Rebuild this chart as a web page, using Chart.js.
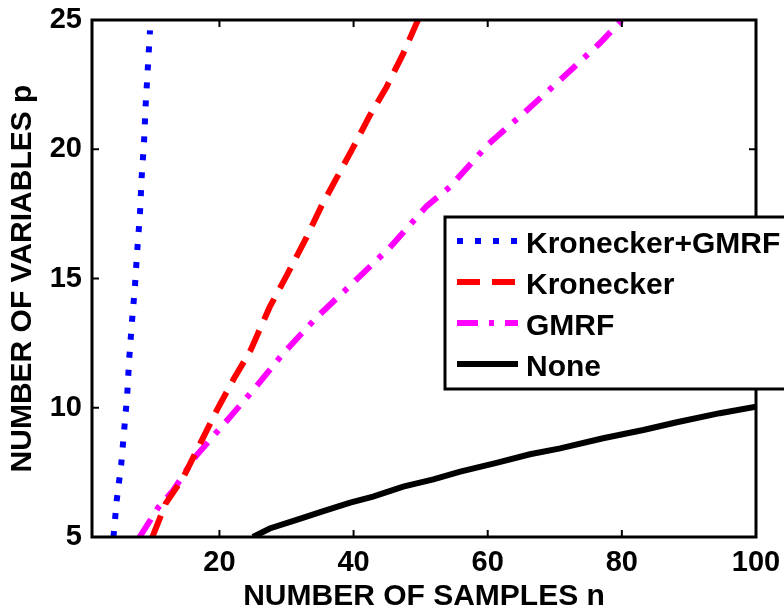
<!DOCTYPE html>
<html lang="en">
<head>
    <meta charset="UTF-8">
    <title>Samples vs variables</title>
    <script src="https://cdn.jsdelivr.net/npm/chart.js"></script>
    <style>
        body {
            margin: 0;
            background: #fff;
        }
        #chartContainer {
            width: 784px;
            height: 608px;
        }
    </style>
</head>
<body>
    <div id="chartContainer">
        <canvas id="pnChart" width="784" height="608"></canvas>
    </div>

    <script>
        const xTicks = [20, 40, 60, 80, 100];
        const yTicks = [5, 10, 15, 20, 25];
        const seriesNames = ['Kronecker+GMRF', 'Kronecker', 'GMRF', 'None'];

        // n (samples) and p (variables)
        const kgN = [4.2, 4.7, 5.35, 5.8, 6.25, 6.55, 6.95, 7.4, 7.75, 8.15, 8.4, 8.75, 9.0, 9.3, 9.65];
        const kgP = [5, 6.45, 7.8, 9.15, 10.5, 11.9, 13.3, 14.7, 16.1, 17.5, 18.9, 20.25, 21.7, 23.05, 24.6];

        const kronN = [10, 12, 14.6, 17.1, 19.6, 22.1, 24.6, 27.5, 30, 33, 35.2, 37.5, 40, 42.4, 44.9, 47.4, 49.6];
        const kronP = [5, 6.3, 7.3, 8.6, 9.9, 11.1, 12.2, 13.9, 15.1, 16.6, 17.8, 18.9, 20.1, 21.3, 22.4, 23.7, 25];

        const gmrfN = [8.1, 10.9, 13.1, 16.4, 21.1, 25.1, 29.5, 34.5, 40, 45.4, 50.9, 54.4, 60.1, 65.6, 71.3, 76.7, 80];
        const gmrfP = [5, 6.15, 6.8, 8.1, 9.5, 10.7, 12.1, 13.5, 14.85, 16.2, 17.8, 18.55, 20.2, 21.45, 22.8, 24.1, 25];

        const noneN = [25, 27.5, 31.5, 35.5, 39.5, 42.9, 47.4, 51.9, 55.9, 61.3, 66.3, 70.8, 77.2, 83.2, 88.2, 94.6, 100];
        const noneP = [5, 5.33, 5.66, 6.0, 6.33, 6.56, 6.95, 7.23, 7.53, 7.87, 8.2, 8.43, 8.82, 9.14, 9.44, 9.79, 10.04];

        const FONT = '"Liberation Sans", Arial, sans-serif';

        function toPoints(xs, ys) {
            return xs.map((x, i) => ({ x: x, y: ys[i] }));
        }

        // box around the axes with inward ticks, matlab style
        const framePlugin = {
            id: 'frame',
            afterDatasetsDraw(chart) {
                const { ctx, chartArea: a, scales } = chart;
                ctx.save();
                ctx.strokeStyle = '#000';
                ctx.lineWidth = 3;
                ctx.strokeRect(a.left, a.top, a.right - a.left, a.bottom - a.top);
                ctx.lineWidth = 2;
                const len = 7;
                ctx.beginPath();
                xTicks.forEach(v => {
                    const x = scales.x.getPixelForValue(v);
                    ctx.moveTo(x, a.bottom); ctx.lineTo(x, a.bottom - len);
                    ctx.moveTo(x, a.top); ctx.lineTo(x, a.top + len);
                });
                yTicks.forEach(v => {
                    const y = scales.y.getPixelForValue(v);
                    ctx.moveTo(a.left, y); ctx.lineTo(a.left + len, y);
                    ctx.moveTo(a.right, y); ctx.lineTo(a.right - len, y);
                });
                ctx.stroke();
                ctx.restore();
            }
        };

        // legend box sitting over the right part of the plot
        const boxLegend = {
            id: 'boxLegend',
            afterDraw(chart) {
                const ctx = chart.ctx;
                const left = 445, top = 217, right = 792, bottom = 389;
                ctx.save();
                ctx.fillStyle = '#fff';
                ctx.fillRect(left, top, right - left, bottom - top);
                ctx.strokeStyle = '#000';
                ctx.lineWidth = 3;
                ctx.strokeRect(left, top, right - left, bottom - top);

                chart.data.datasets.forEach((ds, i) => {
                    const y = top + 24 + i * 41;
                    ctx.save();
                    ctx.strokeStyle = ds.borderColor;
                    ctx.lineWidth = ds.borderWidth;
                    ctx.lineCap = 'butt';
                    ctx.setLineDash(ds.borderDash || []);
                    ctx.beginPath();
                    ctx.moveTo(457, y);
                    ctx.lineTo(518, y);
                    ctx.stroke();
                    ctx.restore();

                    ctx.fillStyle = '#000';
                    ctx.font = 'bold 30px ' + FONT;
                    ctx.textBaseline = 'alphabetic';
                    ctx.textAlign = 'left';
                    ctx.fillText(ds.label, 526, y + 12);
                });
                ctx.restore();
            }
        };

        const ctx = document.getElementById('pnChart').getContext('2d');
        const pnChart = new Chart(ctx, {
            type: 'scatter',
            data: {
                datasets: [{
                    label: seriesNames[0],
                    data: toPoints(kgN, kgP),
                    borderColor: '#0000ff',
                    borderWidth: 6,
                    borderDash: [6, 12]
                }, {
                    label: seriesNames[1],
                    data: toPoints(kronN, kronP),
                    borderColor: '#ff0000',
                    borderWidth: 6,
                    borderDash: [23, 12]
                }, {
                    label: seriesNames[2],
                    data: toPoints(gmrfN, gmrfP),
                    borderColor: '#ff00ff',
                    borderWidth: 6,
                    borderDash: [21, 11, 5, 11]
                }, {
                    label: seriesNames[3],
                    data: toPoints(noneN, noneP),
                    borderColor: '#000000',
                    borderWidth: 6,
                    borderDash: []
                }]
            },
            options: {
                responsive: false,
                animation: false,
                devicePixelRatio: 1,
                showLine: true,
                elements: {
                    point: { radius: 0, hoverRadius: 0 },
                    line: { tension: 0, borderCapStyle: 'butt', borderJoinStyle: 'miter' }
                },
                layout: {
                    padding: { left: 0, right: 28, top: 20, bottom: 0 }
                },
                plugins: {
                    legend: { display: false },
                    tooltip: { enabled: false }
                },
                scales: {
                    x: {
                        type: 'linear',
                        min: 1,
                        max: 100,
                        grid: { display: false, drawTicks: false },
                        border: { display: false },
                        afterBuildTicks: scale => {
                            scale.ticks = xTicks.map(v => ({ value: v }));
                        },
                        afterFit: scale => {
                            scale.height = 71;
                            scale.paddingLeft = 0;
                            scale.paddingRight = 0;
                        },
                        ticks: {
                            color: '#000',
                            padding: 9,
                            maxRotation: 0,
                            font: { family: FONT, size: 29, weight: 'bold' }
                        },
                        title: {
                            display: true,
                            text: 'NUMBER OF SAMPLES n',
                            color: '#000',
                            padding: { top: 0, bottom: -7 },
                            font: { family: FONT, size: 30, weight: 'bold' }
                        }
                    },
                    y: {
                        type: 'linear',
                        min: 5,
                        max: 25,
                        grid: { display: false, drawTicks: false },
                        border: { display: false },
                        afterBuildTicks: scale => {
                            scale.ticks = yTicks.map(v => ({ value: v }));
                        },
                        afterFit: scale => {
                            scale.width = 92;
                            scale.paddingTop = 0;
                            scale.paddingBottom = 0;
                        },
                        ticks: {
                            color: '#000',
                            padding: 10,
                            font: { family: FONT, size: 29, weight: 'bold' }
                        },
                        title: {
                            display: true,
                            text: 'NUMBER OF VARIABLES p',
                            color: '#000',
                            padding: { top: 5, bottom: 0 },
                            font: { family: FONT, size: 30, weight: 'bold' }
                        }
                    }
                }
            },
            plugins: [framePlugin, boxLegend]
        });
    </script>
</body>
</html>
